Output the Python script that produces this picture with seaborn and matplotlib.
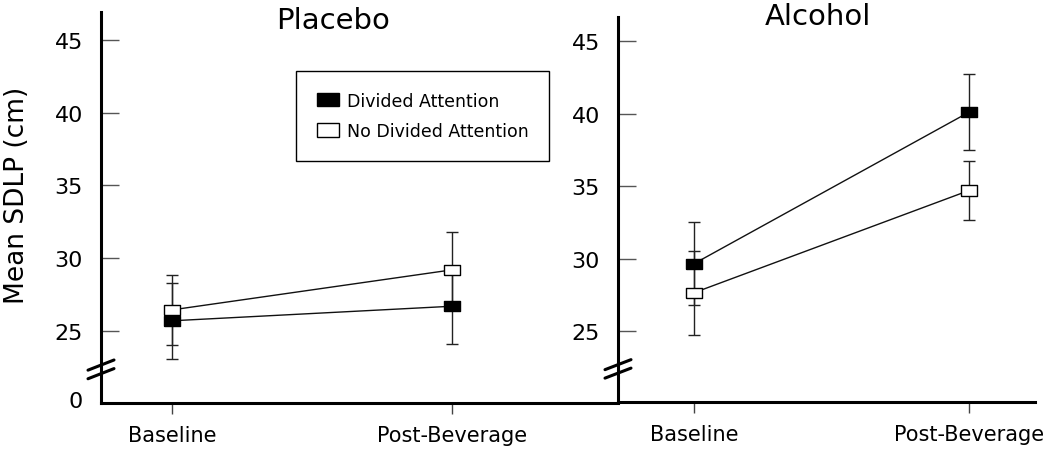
import numpy as np
import pandas as pd
import matplotlib.pyplot as plt
import seaborn as sns
from matplotlib.patches import Patch

sns.set_style("ticks")
plt.rcParams['font.family'] = ['DejaVu Sans']
plt.rcParams['text.color'] = 'black'
plt.rcParams['xtick.labelcolor'] = 'black'
plt.rcParams['ytick.labelcolor'] = 'black'

# values
times = ["Baseline", "Post-Beverage"]
conditions = ["Divided Attention", "No Divided Attention"]
placebo_mean = {"Divided Attention": [25.7, 26.7], "No Divided Attention": [26.45, 29.2]}
placebo_err = {"Divided Attention": [2.6, 2.6], "No Divided Attention": [2.4, 2.6]}
alcohol_mean = {"Divided Attention": [29.65, 40.1], "No Divided Attention": [27.65, 34.7]}
alcohol_err = {"Divided Attention": [2.85, 2.6], "No Divided Attention": [2.9, 2.05]}
yticks = [25, 30, 35, 40, 45]

rows = []
for panel, m, e in [("Placebo", placebo_mean, placebo_err), ("Alcohol", alcohol_mean, alcohol_err)]:
    for c in conditions:
        for i, t in enumerate(times):
            rows.append({"panel": panel, "condition": c, "time": t, "x": i,
                         "mean": m[c][i], "err": e[c][i]})
df = pd.DataFrame(rows)

fill = {"Divided Attention": "black", "No Divided Attention": "white"}
rect = [(-1, -0.68), (1, -0.68), (1, 0.68), (-1, 0.68), (-1, -0.68)]

fig = plt.figure(figsize=(10.5, 4.56), dpi=100)
ax1 = fig.add_axes([101/1050, 52/456, 517/1050, 391/456])
ax2 = fig.add_axes([618/1050, 53/456, 417/1050, 385/456])

setups = [(ax1, "Placebo", (-0.254, 1.593), (20.05, 46.92)),
          (ax2, "Alcohol", (-0.276, 1.24), (20.12, 46.66))]

for ax, panel, xl, yl in setups:
    sub = df[df.panel == panel]
    sns.lineplot(data=sub, x="x", y="mean", hue="condition",
                 palette={c: "#111111" for c in conditions}, linewidth=1,
                 errorbar=None, legend=False, ax=ax, zorder=2)
    for c in conditions:
        s = sub[sub.condition == c]
        ax.errorbar(s["x"], s["mean"], yerr=s["err"], fmt="none", ecolor="#222222",
                    elinewidth=1, capsize=4.5, capthick=1, zorder=1)
    sns.scatterplot(data=sub, x="x", y="mean", hue="condition", palette=fill,
                    marker=rect, s=120, edgecolor="black", linewidth=1,
                    legend=False, ax=ax, zorder=3)
    ax.set_xlim(*xl)
    ax.set_ylim(*yl)
    ax.set_xticks([0, 1])
    ax.set_xticklabels(times, fontsize=15)
    ax.tick_params(axis="x", direction="out", length=8, width=1, color="#444444", pad=8)
    ax.set_xlabel("")
    ax.set_ylabel("")
    for sp in ["top", "right"]:
        ax.spines[sp].set_visible(False)
    for sp in ["left", "bottom"]:
        ax.spines[sp].set_linewidth(2.2)
        ax.spines[sp].set_color("black")
    # axis break marks
    w = 13 / ax.bbox.width
    for dy in (0, 0.022):
        ax.plot([-w, w], [0.062 + dy, 0.088 + dy], transform=ax.transAxes,
                color="black", lw=2.2, clip_on=False, zorder=5)

zero_pos = 20.33
ax1.set_yticks([zero_pos] + yticks)
ax1.set_yticklabels(["0"] + [str(v) for v in yticks], fontsize=16)
ax1.yaxis.get_major_ticks()[0].tick1line.set_visible(False)
ax2.set_yticks(yticks)
ax2.set_yticklabels([str(v) for v in yticks], fontsize=16)
for ax in (ax1, ax2):
    ax.tick_params(axis="y", direction="in", length=13, width=1, color="#555555", pad=13)

fig.text(17/1050, 1 - 195/456, "Mean SDLP (cm)", rotation=90, fontsize=19,
         ha="center", va="center")
fig.text(333/1050, 1 - 21/456, "Placebo", fontsize=21, ha="center", va="center")
fig.text(818/1050, 1 - 17/456, "Alcohol", fontsize=21, ha="center", va="center")

handles = [Patch(facecolor=fill[c], edgecolor="black", linewidth=1, label=c) for c in conditions]
leg = ax1.legend(handles=handles, loc="upper left", bbox_to_anchor=(296/1050, 1 - 72/456),
                 bbox_transform=fig.transFigure, borderaxespad=0, fontsize=12.5,
                 frameon=True, fancybox=False, framealpha=1, edgecolor="black",
                 borderpad=1.2, labelspacing=0.7, handlelength=1.26, handleheight=0.8,
                 handletextpad=0.46)
leg.get_frame().set_linewidth(1)

fig.savefig("out.png", dpi=100)
